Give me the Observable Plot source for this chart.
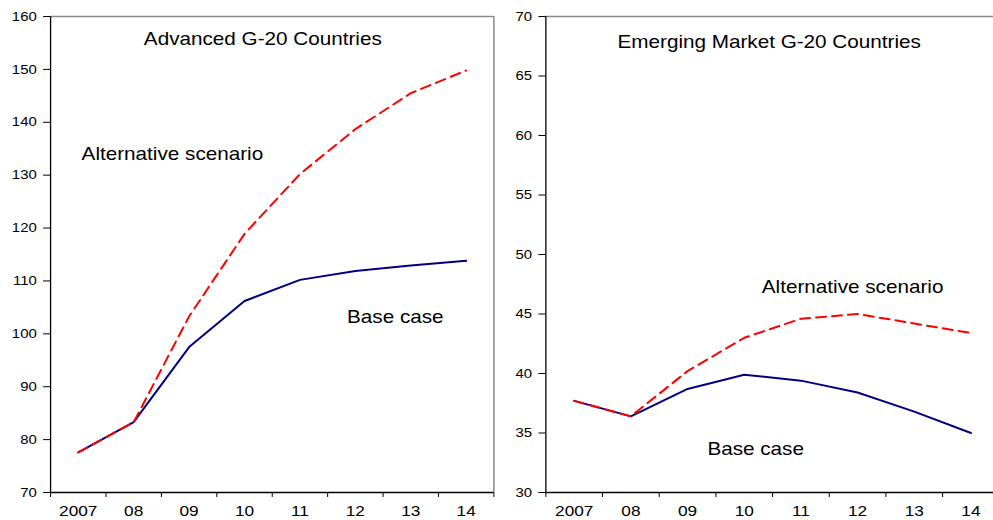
<!DOCTYPE html>
<html><head><meta charset="utf-8">
<script src="https://cdn.jsdelivr.net/npm/d3@7"></script>
<script src="https://cdn.jsdelivr.net/npm/@observablehq/plot@0.6"></script>
<style>
html,body{margin:0;padding:0;background:#fff;overflow:hidden;width:993px;height:520px;}
#wrap{position:relative;width:993px;height:520px;overflow:hidden;background:#fff;}
#wrap svg{position:absolute;top:0;}
#wrap svg path, #wrap svg line{vector-effect:non-scaling-stroke;}
</style></head><body><div id="wrap"></div>
<script>
// ---- data ----
const years = ["2007", "08", "09", "10", "11", "12", "13", "14"];
const advancedBase = [77.6, 83.3, 97.5, 106.2, 110.2, 111.9, 112.9, 113.8];
const advancedAlt  = [77.6, 83.3, 103.3, 118.9, 130.2, 138.7, 145.5, 149.8];
const emergingBase = [37.7, 36.4, 38.7, 39.9, 39.4, 38.4, 36.8, 35.0];
const emergingAlt  = [37.7, 36.4, 40.2, 43.0, 44.6, 45.0, 44.2, 43.4];
const advancedTicks = [70, 80, 90, 100, 110, 120, 130, 140, 150, 160];
const emergingTicks = [30, 35, 40, 45, 50, 55, 60, 65, 70];
const panelTitles = ["Advanced G-20 Countries", "Emerging Market G-20 Countries"];
const seriesNames = ["Alternative scenario", "Base case"];

// annotation anchors in data units (x = year index, y = value)
const advancedTitlePos = {x: 3.33, y: 155.7};
const advancedLabelPos = [{x: 0.06, y: 134.0}, {x: 4.85, y: 103.1}];
const emergingTitlePos = {x: 3.44, y: 67.84};
const emergingLabelPos = [{x: 3.31, y: 47.25}, {x: 2.35, y: 33.6}];

const S = 1.15; // horizontal stretch of the original picture
const FONT = "'Liberation Sans', Arial, Helvetica, sans-serif";

function panel({left, width, mLeft, mRight, ticks, base, alt, title, titlePos, labelPos}) {
  const domain = [ticks[0], ticks[ticks.length - 1]];
  const rows = (vals) => vals.map((v, i) => ({i, v}));
  const n = years.length;
  const svg = Plot.plot({
    width: width / S, height: 520,
    marginLeft: mLeft / S, marginRight: mRight / S, marginTop: 16, marginBottom: 28,
    style: {fontFamily: FONT, background: "transparent", color: "#000", overflow: "visible"},
    x: {domain: [-0.5, n - 0.5], axis: null},
    y: {domain, axis: null},
    marks: [
      Plot.ruleY([domain[1]], {stroke: "#8a8a8a", strokeWidth: 1.5}),
      Plot.ruleX([n - 0.5], {stroke: "#8a8a8a", strokeWidth: 1.5}),
      Plot.axisY({ticks, tickSize: 6, tickPadding: 6, fontSize: 13, stroke: "#000"}),
      Plot.axisX({ticks: d3.range(n + 1).map(i => i - 0.5), tickSize: 5, tickFormat: () => "", stroke: "#000"}),
      Plot.axisX({ticks: d3.range(n), tickSize: 0, tickPadding: 13, tickFormat: i => years[i], fontSize: 15}),
      Plot.ruleX([-0.5], {stroke: "#000", strokeWidth: 1.3}),
      Plot.ruleY([domain[0]], {stroke: "#000", strokeWidth: 1.3}),
      Plot.line(rows(base), {x: "i", y: "v", stroke: "#000080", strokeWidth: 2}),
      Plot.line(rows(alt), {x: "i", y: "v", stroke: "#ff0000", strokeWidth: 2, strokeDasharray: "10,6"}),
      Plot.text([{...titlePos, t: title}], {x: "x", y: "y", text: "t", textAnchor: "middle", fontSize: 18, fill: "#000"}),
      Plot.text(labelPos.map((p, k) => ({...p, t: seriesNames[k]})), {x: "x", y: "y", text: "t", textAnchor: "start", fontSize: 18, fill: "#000"})
    ]
  });
  svg.setAttribute("preserveAspectRatio", "none");
  svg.setAttribute("width", width);
  svg.setAttribute("height", 520);
  svg.style.width = width + "px";
  svg.style.height = "520px";
  svg.style.maxWidth = "none";
  svg.style.left = left + "px";
  document.getElementById("wrap").appendChild(svg);
}

panel({left: 0, width: 496, mLeft: 50, mRight: 2.7, ticks: advancedTicks,
  base: advancedBase, alt: advancedAlt, title: panelTitles[0], titlePos: advancedTitlePos, labelPos: advancedLabelPos});
panel({left: 496, width: 504, mLeft: 49.3, mRight: 1.3, ticks: emergingTicks,
  base: emergingBase, alt: emergingAlt, title: panelTitles[1], titlePos: emergingTitlePos, labelPos: emergingLabelPos});
</script></body></html>
